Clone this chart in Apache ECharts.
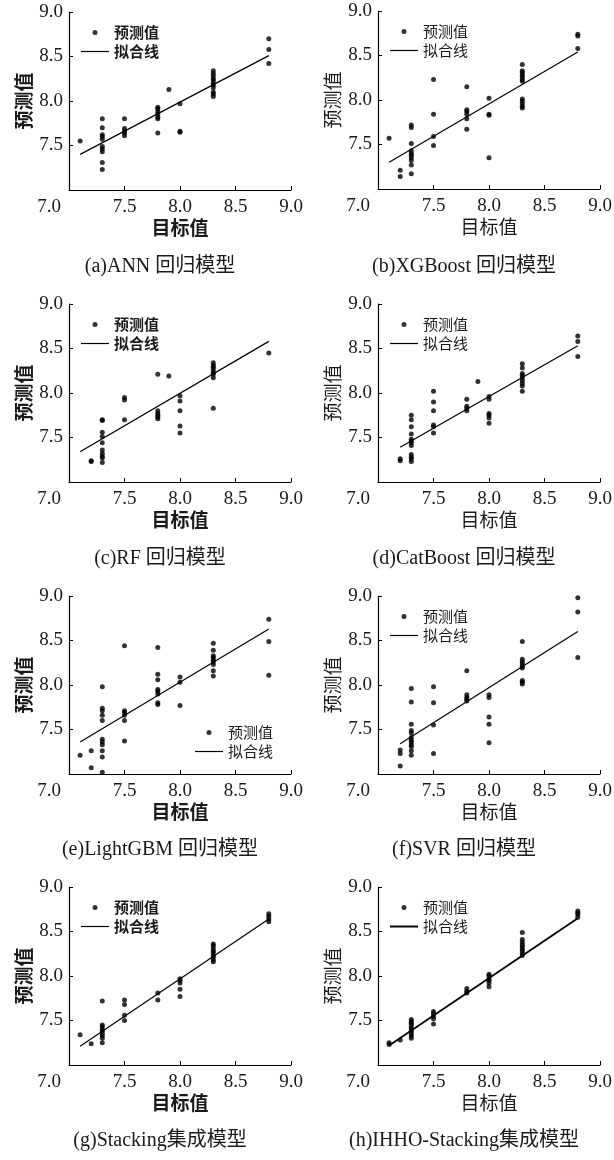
<!DOCTYPE html>
<html>
<head>
<meta charset="utf-8">
<style>
  html, body { margin: 0; padding: 0; background: #fff; }
  #chart { width: 614px; height: 1160px; }
</style>
</head>
<body>
<div id="chart"></div>
<script src="https://cdn.jsdelivr.net/npm/echarts@6/dist/echarts.min.js"></script>
<script>
// 坐标轴范围
const axisMin = 7.0
const axisMax = 9.0
const axisStep = 0.5

// 图例 / 轴名
const legendNames = ['预测值', '拟合线']
const xName = '目标值'
const yName = '预测值'
const captions = ['(a)ANN 回归模型', '(b)XGBoost 回归模型', '(c)RF 回归模型', '(d)CatBoost 回归模型',
  '(e)LightGBM 回归模型', '(f)SVR 回归模型', '(g)Stacking集成模型', '(h)IHHO-Stacking集成模型']

// [目标值, 预测值]
const annPoints = [
  [7.1, 7.55],
  [7.3, 7.80], [7.3, 7.70], [7.3, 7.62], [7.3, 7.60], [7.3, 7.57], [7.3, 7.49], [7.3, 7.46], [7.3, 7.43], [7.3, 7.31], [7.3, 7.23],
  [7.5, 7.80], [7.5, 7.69], [7.5, 7.66], [7.5, 7.64], [7.5, 7.61],
  [7.8, 7.93], [7.8, 7.91], [7.8, 7.88], [7.8, 7.85], [7.8, 7.82], [7.8, 7.80], [7.8, 7.64],
  [7.9, 8.13],
  [8.0, 7.97], [8.0, 7.66], [8.0, 7.65],
  [8.3, 8.34], [8.3, 8.31], [8.3, 8.28], [8.3, 8.25], [8.3, 8.23], [8.3, 8.20], [8.3, 8.18], [8.3, 8.15], [8.3, 8.10], [8.3, 8.08], [8.3, 8.05],
  [8.8, 8.70], [8.8, 8.58], [8.8, 8.42]
]
const annFit = [[7.1, 7.40], [8.8, 8.51]]

const xgbPoints = [
  [7.1, 7.57],
  [7.2, 7.21], [7.2, 7.14],
  [7.3, 7.72], [7.3, 7.69], [7.3, 7.51], [7.3, 7.43], [7.3, 7.40], [7.3, 7.38], [7.3, 7.35], [7.3, 7.32], [7.3, 7.27], [7.3, 7.17],
  [7.5, 8.23], [7.5, 7.84], [7.5, 7.59], [7.5, 7.49],
  [7.8, 8.15], [7.8, 7.89], [7.8, 7.87], [7.8, 7.84], [7.8, 7.79], [7.8, 7.67],
  [8.0, 8.02], [8.0, 7.84], [8.0, 7.83], [8.0, 7.35],
  [8.3, 8.40], [8.3, 8.33], [8.3, 8.31], [8.3, 8.28], [8.3, 8.26], [8.3, 8.23], [8.3, 8.21], [8.3, 8.01], [8.3, 7.99], [8.3, 7.96], [8.3, 7.93], [8.3, 7.91],
  [8.8, 8.74], [8.8, 8.72], [8.8, 8.58]
]
const xgbFit = [[7.1, 7.30], [8.8, 8.54]]

const rfPoints = [
  [7.2, 7.24], [7.2, 7.23],
  [7.3, 7.70], [7.3, 7.69], [7.3, 7.56], [7.3, 7.51], [7.3, 7.44], [7.3, 7.36], [7.3, 7.32], [7.3, 7.29], [7.3, 7.27], [7.3, 7.22],
  [7.5, 7.95], [7.5, 7.92], [7.5, 7.70],
  [7.8, 8.21], [7.8, 7.80], [7.8, 7.77], [7.8, 7.75], [7.8, 7.73], [7.8, 7.71],
  [7.9, 8.19],
  [8.0, 7.97], [8.0, 7.91], [8.0, 7.80], [8.0, 7.63], [8.0, 7.55],
  [8.3, 8.34], [8.3, 8.31], [8.3, 8.29], [8.3, 8.26], [8.3, 8.23], [8.3, 8.21], [8.3, 8.17], [8.3, 7.83],
  [8.8, 8.45]
]
const rfFit = [[7.1, 7.34], [8.8, 8.58]]

const catPoints = [
  [7.2, 7.26], [7.2, 7.24],
  [7.3, 7.75], [7.3, 7.70], [7.3, 7.62], [7.3, 7.54], [7.3, 7.48], [7.3, 7.46], [7.3, 7.44], [7.3, 7.41], [7.3, 7.31], [7.3, 7.28], [7.3, 7.26], [7.3, 7.23],
  [7.5, 8.02], [7.5, 7.90], [7.5, 7.80], [7.5, 7.64], [7.5, 7.62], [7.5, 7.55],
  [7.8, 7.93], [7.8, 7.85], [7.8, 7.83], [7.8, 7.80],
  [7.9, 8.13],
  [8.0, 7.96], [8.0, 7.93], [8.0, 7.77], [8.0, 7.75], [8.0, 7.72], [8.0, 7.66],
  [8.3, 8.33], [8.3, 8.28], [8.3, 8.22], [8.3, 8.20], [8.3, 8.17], [8.3, 8.14], [8.3, 8.11], [8.3, 8.08], [8.3, 8.02],
  [8.8, 8.64], [8.8, 8.58], [8.8, 8.41]
]
const catFit = [[7.2, 7.39], [8.8, 8.53]]

const lgbPoints = [
  [7.1, 7.21],
  [7.2, 7.26], [7.2, 7.07],
  [7.3, 7.98], [7.3, 7.74], [7.3, 7.71], [7.3, 7.66], [7.3, 7.60], [7.3, 7.39], [7.3, 7.36], [7.3, 7.33], [7.3, 7.26], [7.3, 7.19], [7.3, 7.02],
  [7.5, 8.44], [7.5, 7.71], [7.5, 7.69], [7.5, 7.66], [7.5, 7.60], [7.5, 7.37],
  [7.8, 8.42], [7.8, 8.12], [7.8, 8.06], [7.8, 7.95], [7.8, 7.93], [7.8, 7.90], [7.8, 7.80], [7.8, 7.78],
  [8.0, 8.09], [8.0, 8.03], [8.0, 7.77],
  [8.3, 8.47], [8.3, 8.39], [8.3, 8.33], [8.3, 8.31], [8.3, 8.28], [8.3, 8.26], [8.3, 8.23], [8.3, 8.16], [8.3, 8.10],
  [8.8, 8.74], [8.8, 8.49], [8.8, 8.11]
]
const lgbFit = [[7.1, 7.36], [8.8, 8.63]]

const svrPoints = [
  [7.2, 7.27], [7.2, 7.23], [7.2, 7.09],
  [7.3, 7.96], [7.3, 7.81], [7.3, 7.56], [7.3, 7.49], [7.3, 7.46], [7.3, 7.41], [7.3, 7.38], [7.3, 7.36], [7.3, 7.33], [7.3, 7.31], [7.3, 7.26], [7.3, 7.21],
  [7.5, 7.98], [7.5, 7.80], [7.5, 7.55], [7.5, 7.23],
  [7.8, 8.16], [7.8, 7.89], [7.8, 7.86], [7.8, 7.84], [7.8, 7.82],
  [8.0, 7.89], [8.0, 7.86], [8.0, 7.64], [8.0, 7.56], [8.0, 7.35],
  [8.3, 8.49], [8.3, 8.29], [8.3, 8.26], [8.3, 8.24], [8.3, 8.21], [8.3, 8.19], [8.3, 8.05], [8.3, 8.03], [8.3, 8.01],
  [8.8, 8.98], [8.8, 8.82], [8.8, 8.31]
]
const svrFit = [[7.2, 7.34], [8.8, 8.60]]

const stkPoints = [
  [7.1, 7.34],
  [7.2, 7.24],
  [7.3, 7.72], [7.3, 7.45], [7.3, 7.43], [7.3, 7.40], [7.3, 7.38], [7.3, 7.35], [7.3, 7.33], [7.3, 7.30], [7.3, 7.25],
  [7.5, 7.73], [7.5, 7.68], [7.5, 7.56], [7.5, 7.50],
  [7.8, 7.81], [7.8, 7.73],
  [8.0, 7.97], [8.0, 7.95], [8.0, 7.92], [8.0, 7.85], [8.0, 7.77],
  [8.3, 8.36], [8.3, 8.34], [8.3, 8.31], [8.3, 8.28], [8.3, 8.26], [8.3, 8.23], [8.3, 8.21], [8.3, 8.18], [8.3, 8.16],
  [8.8, 8.70], [8.8, 8.67], [8.8, 8.64], [8.8, 8.61]
]
const stkFit = [[7.1, 7.21], [8.8, 8.64]]

const ihhoPoints = [
  [7.1, 7.25], [7.1, 7.23],
  [7.2, 7.28],
  [7.3, 7.51], [7.3, 7.49], [7.3, 7.47], [7.3, 7.45], [7.3, 7.42], [7.3, 7.40], [7.3, 7.38], [7.3, 7.35], [7.3, 7.33], [7.3, 7.30],
  [7.5, 7.60], [7.5, 7.58], [7.5, 7.55], [7.5, 7.52], [7.5, 7.46],
  [7.8, 7.86], [7.8, 7.83], [7.8, 7.81],
  [8.0, 8.02], [8.0, 8.00], [8.0, 7.97], [8.0, 7.95], [8.0, 7.92], [8.0, 7.88],
  [8.3, 8.49], [8.3, 8.41], [8.3, 8.38], [8.3, 8.35], [8.3, 8.33], [8.3, 8.30], [8.3, 8.28], [8.3, 8.25], [8.3, 8.23],
  [8.8, 8.73], [8.8, 8.71], [8.8, 8.69], [8.8, 8.66]
]
const ihhoFit = [[7.1, 7.22], [8.8, 8.65]]

const pointSets = [annPoints, xgbPoints, rfPoints, catPoints, lgbPoints, svrPoints, stkPoints, ihhoPoints]
const fitSets = [annFit, xgbFit, rfFit, catFit, lgbFit, svrFit, stkFit, ihhoFit]

// 布局
const colLeft = [69, 378]
const rowTop = [12, 304, 596, 887]
const plotW = 222
const plotH = 178
const captionX = [160, 464]
const captionY = 267
const rowStep = 291.3

const serif = '"Liberation Serif", "Noto Sans CJK SC", serif'
const cjk = '"Noto Sans CJK SC", sans-serif'
const ink = '#000'
const textInk = '#1a1a1a'

const chart = echarts.init(document.getElementById('chart'))

const grid = [], xAxis = [], yAxis = [], series = [], legend = [], graphic = []

pointSets.forEach((pts, i) => {
  const col = i % 2
  const row = Math.floor(i / 2)
  const bold = col === 0 ? 'bold' : 'normal'
  const top = rowTop[row] - (i === 1 ? 1 : 0)
  const lineW = i === 7 ? 1.8 : 1.2

  grid.push({ left: colLeft[col], top: top, width: plotW, height: plotH, outerBoundsMode: 'none' })

  xAxis.push({
    gridIndex: i, type: 'value', min: axisMin, max: axisMax, interval: axisStep,
    name: xName, nameLocation: 'middle', nameGap: 24,
    nameTextStyle: { fontFamily: cjk, fontSize: 19, fontWeight: bold, color: textInk },
    axisLine: { show: true, lineStyle: { color: ink, width: 1.2 } },
    axisTick: { show: true, inside: true, length: 4, lineStyle: { color: ink } },
    splitLine: { show: false },
    axisLabel: {
      margin: 8, color: textInk, fontFamily: serif, fontSize: 19,
      formatter: v => v === axisMin ? '{o|' + v.toFixed(1) + '}' : v.toFixed(1),
      rich: { o: { fontFamily: serif, fontSize: 19, color: textInk, padding: [0, 40, 0, 0] } }
    }
  })

  yAxis.push({
    gridIndex: i, type: 'value', min: axisMin, max: axisMax, interval: axisStep,
    name: yName, nameLocation: 'middle', nameGap: 36, nameRotate: 90,
    nameTextStyle: { fontFamily: cjk, fontSize: 19, fontWeight: bold, color: textInk },
    axisLine: { show: true, lineStyle: { color: ink, width: 1.2 } },
    axisTick: { show: true, inside: true, length: 4, lineStyle: { color: ink } },
    splitLine: { show: false },
    axisLabel: {
      margin: 6, color: textInk, fontFamily: serif, fontSize: 19, showMinLabel: false,
      formatter: v => v.toFixed(1)
    }
  })

  series.push({
    name: legendNames[0], type: 'scatter', xAxisIndex: i, yAxisIndex: i,
    data: pts, symbolSize: 5, itemStyle: { color: ink }, z: 3
  })
  series.push({
    name: legendNames[1], type: 'line', xAxisIndex: i, yAxisIndex: i,
    data: fitSets[i], symbol: 'none', itemStyle: { color: ink },
    lineStyle: { color: ink, width: lineW }, z: 2
  })

  let lgLeft = colLeft[col] + 12
  let lgTop = top + 13
  if (i === 4) { lgLeft = 195; lgTop = 725 }
  legend.push({
    data: [
      { name: legendNames[0], icon: 'circle' },
      { name: legendNames[1], icon: i === 7 ? 'path://M0,0L28,0L28,2L0,2Z' : 'path://M0,0L28,0L28,1.2L0,1.2Z' }
    ],
    orient: 'vertical', left: lgLeft, top: lgTop, padding: 0,
    itemWidth: 28, itemHeight: 5, itemGap: 4, selectedMode: false,
    itemStyle: { color: ink, borderWidth: 0 },
    textStyle: { fontFamily: cjk, fontSize: 15, color: textInk, fontWeight: (i === 0 || i === 2 || i === 6) ? 'bold' : 'normal' }
  })

  graphic.push({
    type: 'text', x: captionX[col], y: captionY + row * rowStep,
    style: { text: captions[i], font: '20px ' + serif, fill: textInk, textAlign: 'center', textVerticalAlign: 'middle' }
  })
})

chart.setOption({
  animation: false,
  backgroundColor: '#fff',
  grid, xAxis, yAxis, series, legend, graphic
})
</script>
</body>
</html>
